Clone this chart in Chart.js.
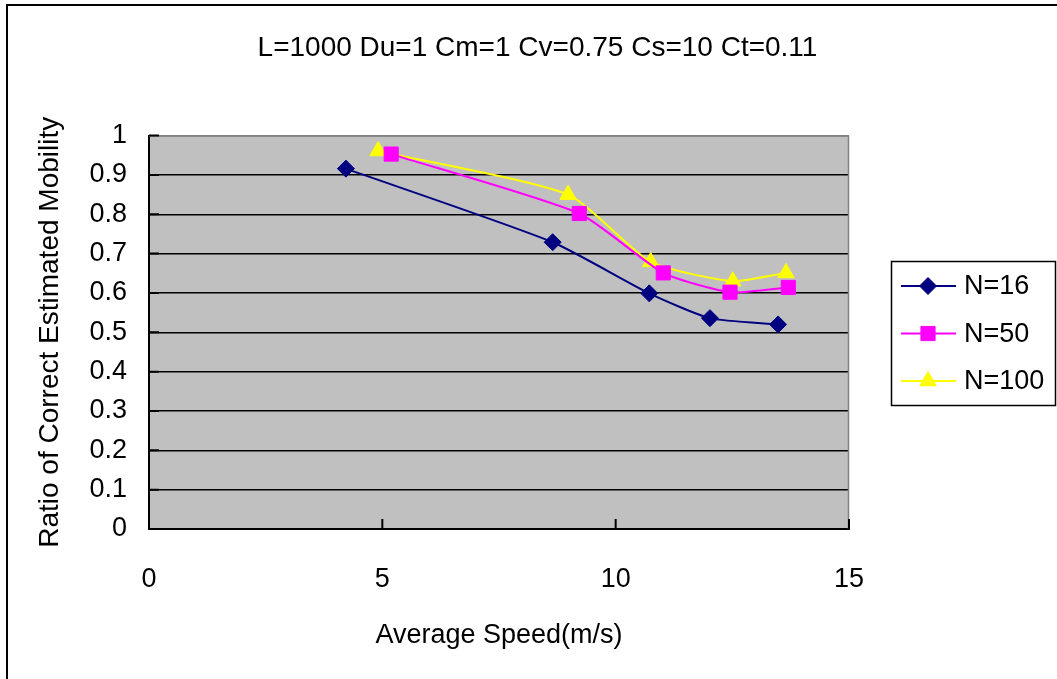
<!DOCTYPE html>
<html><head><meta charset="utf-8">
<script src="https://cdn.jsdelivr.net/npm/chart.js@4.4.1/dist/chart.umd.min.js"></script>
<style>html,body{margin:0;padding:0;background:#fff;overflow:hidden}#wrap{width:1057px;height:679px;position:relative}</style>
</head><body><div id="wrap"><canvas id="c" width="1057" height="679"></canvas></div>
<script>
const chartTitle = 'L=1000 Du=1 Cm=1 Cv=0.75 Cs=10 Ct=0.11';
const xTitle = 'Average Speed(m/s)';
const yTitle = 'Ratio of Correct Estimated Mobility';
const seriesNames = ['N=16', 'N=50', 'N=100'];
const speedN16 = [4.22, 8.65, 10.72, 12.02, 13.48];
const ratioN16 = [0.916, 0.729, 0.599, 0.536, 0.520];
const speedN50 = [5.19, 9.22, 11.02, 12.45, 13.70];
const ratioN50 = [0.953, 0.802, 0.651, 0.602, 0.614];
const speedN100 = [4.91, 8.98, 10.75, 12.51, 13.65];
const ratioN100 = [0.961, 0.850, 0.679, 0.630, 0.651];
const xTickValues = [0, 5, 10, 15];
const xTickLabels = ['0', '5', '10', '15'];
const yTickValues = [0, 0.1, 0.2, 0.3, 0.4, 0.5, 0.6, 0.7, 0.8, 0.9, 1];
const yTickLabels = ['0', '0.1', '0.2', '0.3', '0.4', '0.5', '0.6', '0.7', '0.8', '0.9', '1'];

const FONT = '"Liberation Sans", Arial, sans-serif';
const pts = (xs, ys) => xs.map((x, i) => ({x: x, y: ys[i]}));

function labelFor(values, labels, v) {
  const i = values.findIndex(t => Math.abs(t - v) < 1e-9);
  return i >= 0 ? labels[i] : '';
}

const framePlugin = {
  id: 'frame',
  beforeDraw(chart) {
    const {ctx, chartArea: a} = chart;
    ctx.save();
    ctx.fillStyle = '#ffffff';
    ctx.fillRect(0, 0, chart.width, chart.height);
    ctx.fillStyle = '#c0c0c0';
    ctx.fillRect(a.left, a.top, a.right - a.left, a.bottom - a.top);
    ctx.restore();
  },
  beforeDatasetsDraw(chart) {
    const {ctx, chartArea: a, scales} = chart;
    ctx.save();
    ctx.strokeStyle = '#808080';
    ctx.lineWidth = 1.5;
    ctx.beginPath();
    ctx.moveTo(a.left, a.top + 0.5); ctx.lineTo(a.right, a.top + 0.5);
    ctx.moveTo(a.right - 0.5, a.top); ctx.lineTo(a.right - 0.5, a.bottom);
    ctx.stroke();
    ctx.strokeStyle = '#000';
    ctx.lineWidth = 2;
    ctx.beginPath();
    xTickValues.forEach(v => {
      const px = scales.x.getPixelForValue(v);
      ctx.moveTo(px, a.bottom); ctx.lineTo(px, a.bottom - 10);
    });
    yTickValues.forEach(v => {
      const py = scales.y.getPixelForValue(v);
      ctx.moveTo(a.left, py); ctx.lineTo(a.left + 10, py);
    });
    ctx.stroke();
    ctx.restore();
  },
  afterDraw(chart) {
    const ctx = chart.ctx;
    ctx.save();
    ctx.strokeStyle = '#000';
    ctx.lineWidth = 2;
    ctx.beginPath();
    ctx.moveTo(7, chart.height); ctx.lineTo(7, 5); ctx.lineTo(chart.width, 5);
    ctx.stroke();
    const bx = 891, by = 261, bw = 164, bh = 144;
    ctx.fillStyle = '#fff';
    ctx.fillRect(bx, by, bw, bh);
    ctx.lineWidth = 1.5;
    ctx.strokeStyle = '#000';
    ctx.strokeRect(bx + 0.5, by + 0.5, bw, bh);
    chart.data.datasets.forEach((ds, i) => {
      const cy = by + 25 + i * 47.5;
      ctx.strokeStyle = ds.borderColor;
      ctx.lineWidth = 2;
      ctx.beginPath();
      ctx.moveTo(901, cy); ctx.lineTo(956, cy);
      ctx.stroke();
      ctx.fillStyle = ds.pointBackgroundColor;
      ctx.strokeStyle = ds.pointBorderColor;
      ctx.lineWidth = 1;
      Chart.helpers.drawPoint(ctx, {pointStyle: ds.pointStyle, radius: ds.pointRadius, borderWidth: 1, rotation: 0}, 928, cy);
      ctx.fillStyle = '#000';
      ctx.font = '27px ' + FONT;
      ctx.textAlign = 'left';
      ctx.textBaseline = 'middle';
      ctx.fillText(ds.label, 964, cy + 1);
    });
    ctx.restore();
  }
};

const colors = ['#000080', '#ff00ff', '#ffff00'];
const styles = ['rectRot', 'rect', 'triangle'];
const radii = [8.5, 10, 9.5];
const dataSets = [pts(speedN16, ratioN16), pts(speedN50, ratioN50), pts(speedN100, ratioN100)];

new Chart(document.getElementById('c'), {
  type: 'line',
  data: {
    datasets: dataSets.map((d, i) => ({
      label: seriesNames[i],
      data: d,
      borderColor: colors[i],
      backgroundColor: colors[i],
      pointBackgroundColor: colors[i],
      pointBorderColor: colors[i],
      pointBorderWidth: 1,
      pointStyle: styles[i],
      pointRadius: radii[i],
      borderWidth: 2,
      tension: 0.2,
      fill: false,
      clip: false
    }))
  },
  options: {
    responsive: false,
    animation: false,
    devicePixelRatio: 1,
    layout: {padding: {left: 18, right: 0, top: 0, bottom: 0}},
    plugins: {
      legend: {display: false},
      tooltip: {enabled: false},
      title: {
        display: true,
        text: chartTitle,
        color: '#000',
        font: {family: FONT, size: 28, weight: 'normal'},
        padding: {top: 31, bottom: 71}
      }
    },
    scales: {
      x: {
        type: 'linear',
        position: 'bottom',
        min: 0, max: 15,
        afterBuildTicks: s => { s.ticks = xTickValues.map(v => ({value: v})); },
        afterFit: s => { s.height = 150; },
        grid: {display: false, drawTicks: false},
        border: {display: true, color: '#000', width: 2},
        ticks: {
          color: '#000', padding: 34, maxRotation: 0, autoSkip: false,
          font: {family: FONT, size: 27},
          callback: v => labelFor(xTickValues, xTickLabels, v)
        },
        title: {
          display: true, text: xTitle, color: '#000',
          font: {family: FONT, size: 27},
          padding: {top: 0, bottom: 27}
        }
      },
      y: {
        type: 'linear',
        position: 'left',
        min: 0, max: 1,
        afterBuildTicks: s => { s.ticks = yTickValues.map(v => ({value: v})); },
        afterFit: s => { s.width = 131; },
        grid: {
          display: true, drawTicks: false, lineWidth: 1.5,
          color: c => (c.tick && c.tick.value >= 1 - 1e-9) ? '#808080' : '#000'
        },
        border: {display: true, color: '#000', width: 2},
        ticks: {
          color: '#000', padding: 22, autoSkip: false,
          font: {family: FONT, size: 27},
          callback: v => labelFor(yTickValues, yTickLabels, v)
        },
        title: {
          display: true, text: yTitle, color: '#000',
          font: {family: FONT, size: 28},
          padding: {top: 15, bottom: 0}
        }
      },
      yRight: {
        type: 'linear',
        position: 'right',
        display: true,
        afterFit: s => { s.width = 208; },
        grid: {display: false, drawTicks: false},
        border: {display: false},
        ticks: {display: false}
      }
    }
  },
  plugins: [framePlugin]
});
</script>
</body></html>
